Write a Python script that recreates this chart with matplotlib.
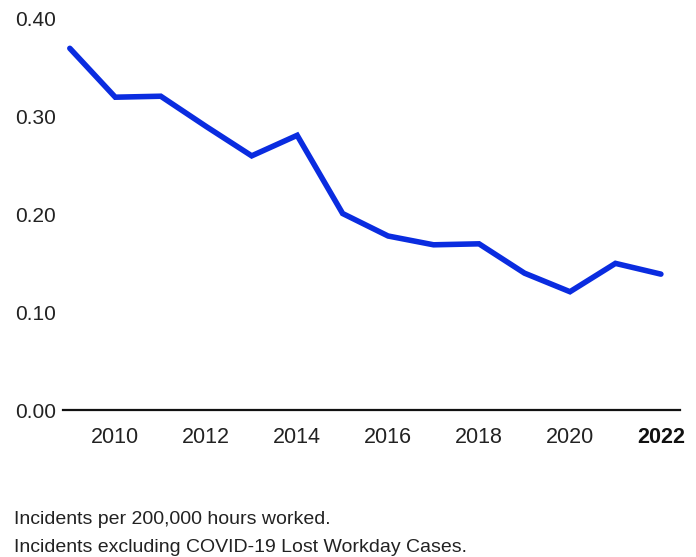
import matplotlib.pyplot as plt

years = [2009, 2010, 2011, 2012, 2013, 2014, 2015, 2016, 2017, 2018, 2019, 2020, 2021, 2022]
rates = [0.370, 0.320, 0.321, 0.290, 0.260, 0.281, 0.201, 0.178, 0.169, 0.170, 0.140, 0.121, 0.150, 0.139]
yticks = [0.0, 0.1, 0.2, 0.3, 0.4]
xticks = [2010, 2012, 2014, 2016, 2018, 2020, 2022]
notes = ['Incidents per 200,000 hours worked.',
         'Incidents excluding COVID-19 Lost Workday Cases.']

plt.rcParams['font.family'] = ['Liberation Sans', 'DejaVu Sans']
TEXT = '#222222'

fig = plt.figure(figsize=(6.96, 5.57), dpi=100)
W, H = 696, 557
ax = fig.add_axes([63 / W, 1 - 410 / H, (680 - 63) / W, (410 - 19) / H])

ax.plot(years, rates, color='#0a2ce0', lw=4, solid_capstyle='round', solid_joinstyle='miter', clip_on=False)

ax.set_xlim(2008.85, 2022.42)
ax.set_ylim(0, 0.4)
for s in ['top', 'right', 'left']:
    ax.spines[s].set_visible(False)
ax.spines['bottom'].set_linewidth(1.6)
ax.spines['bottom'].set_color('#111111')

ax.set_yticks(yticks)
ax.set_yticklabels(['{:.2f}'.format(v) for v in yticks])
ax.set_xticks(xticks)
ax.set_xticklabels([str(x) for x in xticks])
ax.tick_params(axis='both', length=0, colors=TEXT)
ax.tick_params(axis='y', labelsize=15, pad=5)
ax.tick_params(axis='x', labelsize=15.5, pad=12)
for lab in ax.get_xticklabels():
    if lab.get_text() == '2022':
        lab.set_fontweight('bold')
        lab.set_color('#111111')

for i, note in enumerate(notes):
    fig.text(14 / W, 1 - (519 + 29 * i) / H, note, fontsize=14, color=TEXT, va='center', ha='left')

fig.savefig('out.png', dpi=100, facecolor='white')
